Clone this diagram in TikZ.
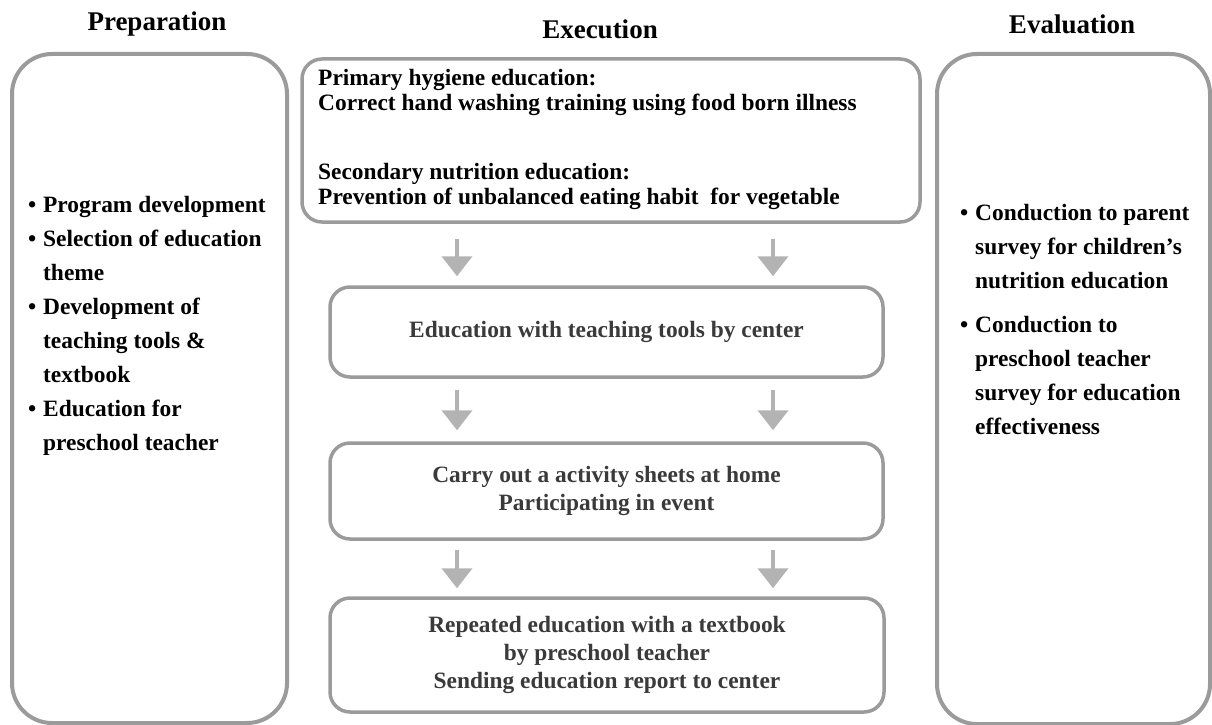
\documentclass[tikz,border=0pt]{standalone}
\usepackage{fontspec}
\setmainfont{Liberation Serif}
\usetikzlibrary{arrows.meta}
\definecolor{boxgray}{HTML}{9B9B9B}
\definecolor{arrowgray}{HTML}{B3B3B3}
\definecolor{textgray}{HTML}{3A3A3A}
\begin{document}
\begin{tikzpicture}[x=1pt,y=-1pt,
  phase/.style={draw=boxgray, line width=4pt, rounded corners=40pt, inner sep=0pt},
  stepbox/.style={draw=boxgray, line width=3.5pt, rounded corners=20pt, inner sep=0pt, fill=white,
    align=center, text=textgray, font=\fontsize{23.4}{28}\selectfont\bfseries},
  title/.style={font=\fontsize{27}{30}\selectfont\bfseries, inner sep=0pt},
  listtext/.style={inner sep=0pt, align=left, anchor=north west, font=\fontsize{23.4}{34}\selectfont\bfseries},
  flowarrow/.style={draw=arrowgray, line width=4pt, -{Triangle[width=30pt,length=20pt]}}]
\useasboundingbox (0,0) rectangle (1212,725);

% titles
\node[title] (tprep) at (157,24) {Preparation};
\node[title] (texec) at (600,29) {Execution};
\node[title] (teval) at (1072,24) {Evaluation};

% phase boxes
\node[phase, minimum width=275pt, minimum height=669pt] (prep) at (149.5,388.5) {};
\node[phase, minimum width=273pt, minimum height=670pt] (eval) at (1073.5,389) {};

% execution boxes
\node[stepbox, minimum width=618pt, minimum height=163pt] (b1) at (611,140.5) {};
\node[inner sep=0pt, anchor=west, align=left, font=\fontsize{23.4}{25}\selectfont\bfseries] (b1text) at (318,139.5)
  {Primary hygiene education:\\Correct hand washing training using food born illness\\[44pt]Secondary nutrition education:\\Prevention of unbalanced eating habit\ \ for vegetable};
\node[stepbox, minimum width=553pt, minimum height=90pt] (b2) at (606.5,332) {Education with teaching tools by center};
\node[stepbox, minimum width=553pt, minimum height=96pt] (b3) at (606.5,491) {\raisebox{-3pt}{\begin{tabular}{@{}c@{}}Carry out a activity sheets at home\\Participating in event\end{tabular}}};
\node[stepbox, minimum width=554pt, minimum height=114pt] (b4) at (607,655) {\raisebox{-3pt}{\begin{tabular}{@{}c@{}}Repeated education with a textbook\\by preschool teacher\\Sending education report to center\end{tabular}}};

% arrow columns
\coordinate (ax1) at (457,0);
\coordinate (ax2) at (773,0);
\draw[flowarrow] ([yshift=-15pt]b1.south -| ax1) -- ([yshift=9pt]b2.north -| ax1);
\draw[flowarrow] ([yshift=-15pt]b1.south -| ax2) -- ([yshift=9pt]b2.north -| ax2);
\draw[flowarrow] ([yshift=-11pt]b2.south -| ax1) -- ([yshift=11pt]b3.north -| ax1);
\draw[flowarrow] ([yshift=-11pt]b2.south -| ax2) -- ([yshift=11pt]b3.north -| ax2);
\draw[flowarrow] ([yshift=-9pt]b3.south -| ax1) -- ([yshift=8pt]b4.north -| ax1);
\draw[flowarrow] ([yshift=-9pt]b3.south -| ax2) -- ([yshift=8pt]b4.north -| ax2);

% lists
\node[listtext] (preplist) at (43,196)
  {\llap{•\hspace{7pt}}Program development\\
   \llap{•\hspace{7pt}}Selection of education\\
   theme\\
   \llap{•\hspace{7pt}}Development of\\
   teaching tools \&\\
   textbook\\
   \llap{•\hspace{7pt}}Education for\\
   preschool teacher};
\node[listtext] (evallist) at (975,204)
  {\llap{•\hspace{7pt}}Conduction to parent\\
   survey for children’s\\
   nutrition education\\[10pt]
   \llap{•\hspace{7pt}}Conduction to\\
   preschool teacher\\
   survey for education\\
   effectiveness};
\end{tikzpicture}
\end{document}
